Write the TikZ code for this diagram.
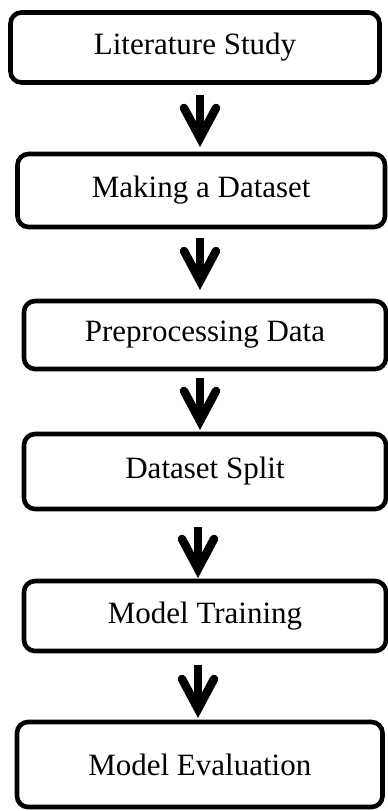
\documentclass[tikz,border=0pt]{standalone}
\usepackage{fontspec}
\setmainfont{Liberation Serif}
\usetikzlibrary{arrows.meta}
\begin{document}
\begin{tikzpicture}[x=1pt,y=-1pt,
  stage/.style={draw=black, line width=4.6pt, rounded corners=11pt, fill=white,
    outer sep=0pt, inner sep=0pt, font=\fontsize{31}{36}\selectfont},
  flow/.style={line width=8pt,
    -{Straight Barb[length=30pt, width=32pt, line width=8.5pt, line cap=round]}}]
  \useasboundingbox (0,0) rectangle (388,811);

  % process stages, top to bottom
  \node[stage, minimum width=369pt, minimum height=70pt] (b1) at (195,47.5) {Literature Study};
  \node[stage, minimum width=367.5pt, minimum height=73pt] (b2) at (201.25,190.5) {Making a Dataset};
  \node[stage, minimum width=362pt, minimum height=68pt] (b3) at (205,335) {Preprocessing Data};
  \node[stage, minimum width=362pt, minimum height=75pt] (b4) at (205,471.5) {Dataset Split};
  \node[stage, minimum width=362pt, minimum height=70pt] (b5) at (205,616) {Model Training};
  \node[stage, minimum width=365.5pt, minimum height=85pt] (b6) at (199.75,764.5) {Model Evaluation};

  % column of the arrows
  \coordinate (ax) at (200,0);
  \coordinate (bx) at (198,0);

  \draw[flow, shorten <=12.5pt, shorten >=7pt] (b1.south -| ax) -- (b2.north -| ax);
  \draw[flow, shorten <=11pt, shorten >=11pt] (b2.south -| ax) -- (b3.north -| ax);
  \draw[flow, shorten <=9pt, shorten >=4pt] (b3.south -| ax) -- (b4.north -| ax);
  \draw[flow, shorten <=18pt, shorten >=3pt] (b4.south -| bx) -- (b5.north -| bx);
  \draw[flow, shorten <=14pt, shorten >=4pt] (b5.south -| bx) -- (b6.north -| bx);
\end{tikzpicture}
\end{document}
